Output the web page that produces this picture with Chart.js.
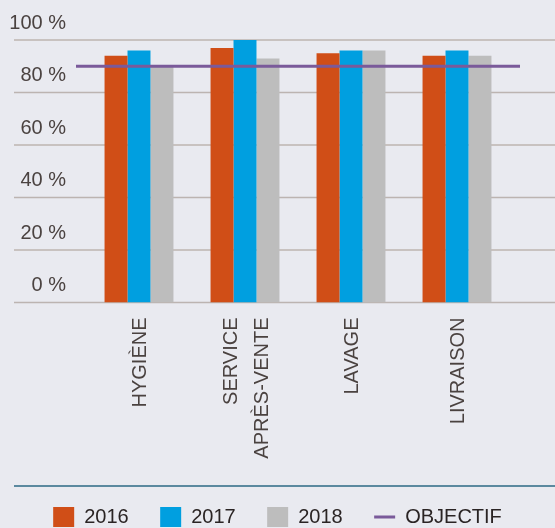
<!DOCTYPE html>
<html><head><meta charset="utf-8">
<script src="https://cdn.jsdelivr.net/npm/chart.js@4/dist/chart.umd.min.js"></script>
<style>html,body{margin:0;padding:0;background:#e9eaf0;overflow:hidden;width:555px;height:528px}canvas{display:block}</style>
</head><body><canvas id="c" width="555" height="540"></canvas>
<script>
const CATEGORIES = ['HYGIÈNE', ['SERVICE', 'APRÈS-VENTE'], 'LAVAGE', 'LIVRAISON'];
const SERIES_NAMES = ['2016', '2017', '2018'];
const VALUES_2016 = [94, 97, 95, 94];
const VALUES_2017 = [96, 100, 96, 96];
const VALUES_2018 = [90, 93, 96, 94];
const OBJECTIVE_NAME = 'OBJECTIF';
const OBJECTIVE = 90;
const Y_TICKS = [0, 20, 40, 60, 80, 100];

const FONT = "'Liberation Sans', Arial, sans-serif";
const COLORS = ['#d04e17', '#009fe0', '#bdbdbd'];
const OBJ_COLOR = '#7a5a9a';
const SERIES = [VALUES_2016, VALUES_2017, VALUES_2018];

const bgPlugin = {
  id: 'bg',
  beforeDraw(chart) {
    const ctx = chart.ctx;
    ctx.save();
    ctx.fillStyle = '#e9eaf0';
    ctx.fillRect(0, 0, chart.width, chart.height);
    ctx.restore();
  }
};
const decoPlugin = {
  id: 'deco',
  beforeDatasetsDraw(chart) {
    const ctx = chart.ctx, y = chart.scales.y;
    ctx.save();
    ctx.strokeStyle = '#bcb4b1';
    ctx.lineWidth = 1.5;
    y.ticks.forEach(t => {
      const py = y.getPixelForValue(t.value);
      ctx.beginPath();
      ctx.moveTo(14, py);
      ctx.lineTo(chart.width, py);
      ctx.stroke();
    });
    ctx.restore();
  },
  afterDatasetsDraw(chart) {
    // objective line, slightly wider than the plot area
    const ctx = chart.ctx, y = chart.scales.y, a = chart.chartArea;
    const ds = chart.data.datasets.find(d => d.type === 'line');
    const py = y.getPixelForValue(ds.data[0]);
    ctx.save();
    ctx.strokeStyle = ds.borderColor;
    ctx.lineWidth = 3;
    ctx.beginPath();
    ctx.moveTo(a.left - 10, py);
    ctx.lineTo(a.right + 10, py);
    ctx.stroke();
    ctx.restore();
  },
  afterDraw(chart) {
    const ctx = chart.ctx;
    const py = chart.legend.top + 10.5;
    ctx.save();
    ctx.strokeStyle = '#2b6884';
    ctx.lineWidth = 1.5;
    ctx.beginPath();
    ctx.moveTo(14, py);
    ctx.lineTo(chart.width, py);
    ctx.stroke();
    ctx.restore();
  }
};

const datasets = SERIES.map((vals, i) => ({
  type: 'bar',
  label: SERIES_NAMES[i],
  data: vals,
  backgroundColor: COLORS[i],
  borderWidth: 0,
  xAxisID: 'x',
  categoryPercentage: 0.65,
  barPercentage: 1
}));
datasets.push({
  type: 'line',
  label: OBJECTIVE_NAME,
  data: CATEGORIES.map(() => OBJECTIVE),
  xAxisID: 'x',
  borderColor: OBJ_COLOR,
  backgroundColor: OBJ_COLOR,
  borderWidth: 3,
  showLine: false,
  pointRadius: 0
});

const tickFont = { family: FONT, size: 20, lineHeight: 1.55 };

new Chart(document.getElementById('c'), {
  type: 'bar',
  data: { labels: CATEGORIES, datasets },
  plugins: [bgPlugin, decoPlugin],
  options: {
    responsive: false,
    animation: false,
    devicePixelRatio: 1,
    layout: { padding: { left: 0, right: 0, top: 40, bottom: 3 } },
    scales: {
      x: {
        type: 'category',
        offset: true,
        weight: 2,
        grid: { display: false, drawTicks: false },
        border: { display: false },
        ticks: {
          autoSkip: false, minRotation: 90, maxRotation: 90, padding: 15, labelOffset: 1,
          color: '#4a4240', font: tickFont,
          callback: (v, i) => Array.isArray(CATEGORIES[i]) ? '' : CATEGORIES[i]
        },
        afterFit(s) { s.height = 173; }
      },
      xL: {
        type: 'category',
        position: 'bottom',
        offset: true,
        weight: 1,
        grid: { display: false, drawTicks: false },
        border: { display: false },
        ticks: {
          autoSkip: false, minRotation: 90, maxRotation: 90, padding: -15, labelOffset: 17,
          mirror: true,
          color: '#4a4240', font: tickFont,
          callback: (v, i) => Array.isArray(CATEGORIES[i]) ? CATEGORIES[i] : ''
        },
        afterFit(s) { s.height = 0; }
      },
      y: {
        min: 0, max: 100,
        afterBuildTicks(s) { s.ticks = Y_TICKS.map(v => ({ value: v })); },
        grid: { display: false, drawTicks: false },
        border: { display: false },
        ticks: {
          padding: 20, labelOffset: -17,
          color: '#4a4240', font: { family: FONT, size: 20 },
          callback: v => v + ' %'
        },
        afterFit(s) { s.width = 86; }
      },
      yR: {
        type: 'linear', position: 'right',
        grid: { display: false, drawTicks: false },
        border: { display: false },
        ticks: { display: false },
        afterFit(s) { s.width = 45; }
      }
    },
    plugins: {
      tooltip: { enabled: false },
      legend: {
        position: 'bottom',
        labels: {
          color: '#2a2424',
          font: { family: FONT, size: 20 },
          boxWidth: 21, boxHeight: 21,
          usePointStyle: true, pointStyleWidth: 21,
          padding: 31.5,
          generateLabels(chart) {
            const items = Chart.defaults.plugins.legend.labels.generateLabels(chart);
            items.forEach(it => {
              const ds = chart.data.datasets[it.datasetIndex];
              if (ds.type === 'line') {
                it.pointStyle = 'line'; it.lineWidth = 3; it.strokeStyle = ds.borderColor;
              } else {
                it.pointStyle = 'rect'; it.lineWidth = 0; it.fillStyle = ds.backgroundColor;
              }
            });
            return items;
          }
        }
      }
    }
  }
});
</script></body></html>
